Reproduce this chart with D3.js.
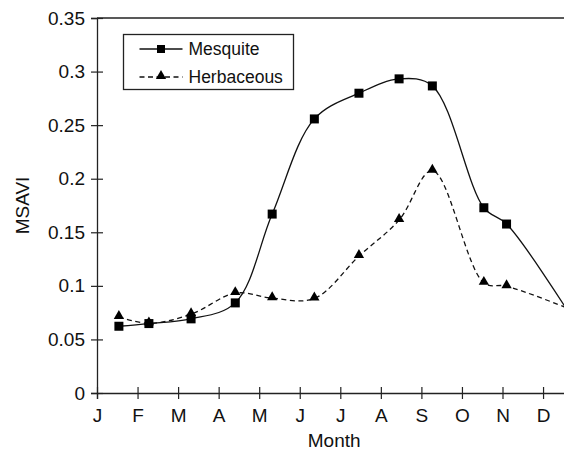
<!DOCTYPE html>
<html>
<head>
<meta charset="utf-8">
<script src="https://cdn.jsdelivr.net/npm/d3@7"></script>
<style>
  body { margin: 0; background: #fff; }
  svg { display: block; font-family: "Liberation Sans", Arial, sans-serif; }
</style>
</head>
<body>
<svg id="chart" width="564" height="450"></svg>
<script>
// month tick labels (positions 0..11)
var months = ["J", "F", "M", "A", "M", "J", "J", "A", "S", "O", "N", "D"];
var yTicks = [0, 0.05, 0.1, 0.15, 0.2, 0.25, 0.3, 0.35];
// sample dates, in months from the J tick
var sampleMonth = [0.54, 1.28, 2.32, 3.41, 4.32, 5.36, 6.46, 7.45, 8.27, 9.54, 10.1, 11.55];
var mesquite = [0.0623, 0.0648, 0.0692, 0.0841, 0.167, 0.2558, 0.2798, 0.2932, 0.2866, 0.1729, 0.1577, 0.0800];
var herbaceous = [0.071, 0.065, 0.0735, 0.0932, 0.0885, 0.0882, 0.1278, 0.1614, 0.2075, 0.1028, 0.0997, 0.0800];

var margin = { top: 18, left: 97, bottom: 57 };
var width = 40.55 * 12, height = 450 - margin.top - margin.bottom;

var svg = d3.select("#chart");
var g = svg.append("g").attr("transform", "translate(" + margin.left + "," + margin.top + ")");

var xScale = d3.scaleLinear().domain([0, 12]).range([0, width]);
var yScale = d3.scaleLinear().domain([0, 0.35]).range([height, 0]);

// top frame line
g.append("line").attr("x1", 0).attr("x2", width).attr("y1", 0).attr("y2", 0)
  .attr("stroke", "#222").attr("stroke-width", 1.3);

// x axis
var xAxis = g.append("g").attr("transform", "translate(0," + height + ")")
  .call(d3.axisBottom(xScale).tickValues(d3.range(0, 13)).tickFormat(function (d) { return months[d] || ""; })
    .tickSize(6).tickPadding(10));
xAxis.selectAll(".tick line").attr("y1", -6);
xAxis.selectAll("text").attr("font-size", 19).attr("fill", "#111").attr("font-family", null);
xAxis.select(".domain").attr("stroke", "#222").attr("stroke-width", 1.3);
xAxis.selectAll(".tick line").attr("stroke", "#222").attr("stroke-width", 1.2);

// y axis
var yAxis = g.append("g")
  .call(d3.axisLeft(yScale).tickValues(yTicks).tickFormat(function (d) { return String(+d.toFixed(2)); })
    .tickSize(6).tickPadding(6));
yAxis.selectAll(".tick line").attr("x1", 6);
yAxis.selectAll("text").attr("font-size", 19).attr("fill", "#111").attr("font-family", null);
yAxis.select(".domain").attr("stroke", "#222").attr("stroke-width", 1.3);
yAxis.selectAll(".tick line").attr("stroke", "#222").attr("stroke-width", 1.2);

// axis titles
svg.append("text").attr("x", margin.left + xScale(5.85)).attr("y", 447)
  .attr("text-anchor", "middle").attr("font-size", 19).attr("fill", "#111").text("Month");
svg.append("text").attr("transform", "translate(29," + (margin.top + yScale(0.175)) + ") rotate(-90)")
  .attr("text-anchor", "middle").attr("font-size", 19).attr("fill", "#111").text("MSAVI");

var line = d3.line().curve(d3.curveCatmullRom.alpha(0.5))
  .x(function (d) { return xScale(d[0]); })
  .y(function (d) { return yScale(d[1]); });

var mesqData = sampleMonth.map(function (m, i) { return [m, mesquite[i]]; });
var herbData = sampleMonth.map(function (m, i) { return [m, herbaceous[i]]; });

g.append("path").datum(herbData).attr("d", line).attr("fill", "none")
  .attr("stroke", "#111").attr("stroke-width", 1.3).attr("stroke-dasharray", "5,3.5");
g.append("path").datum(mesqData).attr("d", line).attr("fill", "none")
  .attr("stroke", "#111").attr("stroke-width", 1.3);

var tri = d3.symbol().type(d3.symbolTriangle).size(46);
// last sample lies at the clipped right edge, no marker there
g.selectAll(".herb").data(herbData.slice(0, -1)).enter().append("path")
  .attr("class", "herb").attr("d", tri)
  .attr("transform", function (d) { return "translate(" + xScale(d[0]) + "," + (yScale(d[1]) - 1) + ")"; })
  .attr("fill", "#000");
g.selectAll(".mesq").data(mesqData.slice(0, -1)).enter().append("rect")
  .attr("class", "mesq")
  .attr("x", function (d) { return xScale(d[0]) - 4.5; })
  .attr("y", function (d) { return yScale(d[1]) - 4.5; })
  .attr("width", 9).attr("height", 9).attr("fill", "#000");

// legend
var lg = svg.append("g").attr("transform", "translate(123.5,34.5)");
lg.append("rect").attr("width", 170).attr("height", 55).attr("fill", "#fff")
  .attr("stroke", "#222").attr("stroke-width", 1.3);
lg.append("line").attr("x1", 16).attr("x2", 59).attr("y1", 14.5).attr("y2", 14.5)
  .attr("stroke", "#111").attr("stroke-width", 1.3);
lg.append("rect").attr("x", 33.5).attr("y", 10.5).attr("width", 8).attr("height", 8).attr("fill", "#000");
lg.append("line").attr("x1", 16).attr("x2", 59).attr("y1", 42.5).attr("y2", 42.5)
  .attr("stroke", "#111").attr("stroke-width", 1.3).attr("stroke-dasharray", "5,3.5");
lg.append("path").attr("d", tri).attr("transform", "translate(37.5,41.5)").attr("fill", "#000");
lg.append("text").attr("x", 65).attr("y", 20.5).attr("font-size", 17.5).attr("fill", "#111").text("Mesquite");
lg.append("text").attr("x", 65).attr("y", 48.5).attr("font-size", 17.5).attr("fill", "#111").text("Herbaceous");
</script>
</body>
</html>
